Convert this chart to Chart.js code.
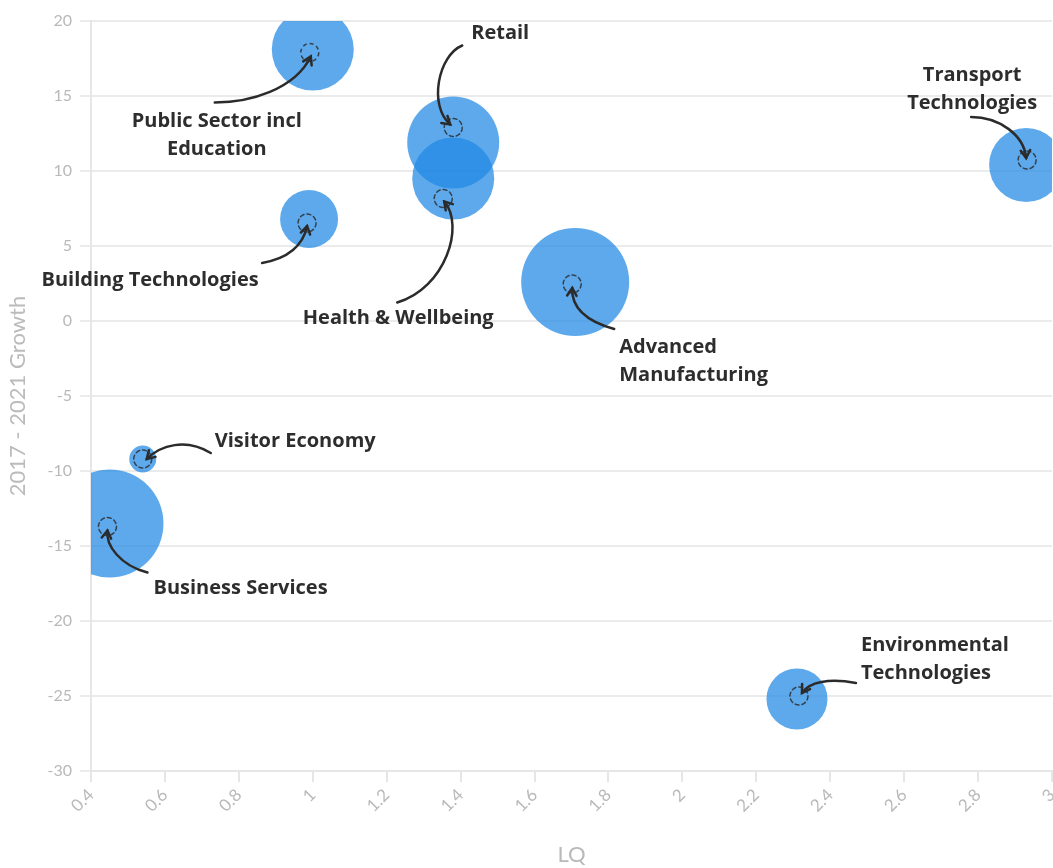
<!DOCTYPE html>
<html>
<head>
<meta charset="utf-8">
<script src="https://cdn.jsdelivr.net/npm/chart.js@4"></script>
<style>
  html, body { margin: 0; padding: 0; background: #fff; overflow: hidden; }
  #wrap { width: 1053px; height: 868px; }
</style>
</head>
<body>
<div id="wrap"><canvas id="bubbles"></canvas></div>
<script>
// sectors, LQ (x), 2017-2021 growth (y), bubble size
const sectors = ['Public Sector incl Education', 'Retail', 'Health & Wellbeing', 'Building Technologies',
  'Advanced Manufacturing', 'Transport Technologies', 'Visitor Economy', 'Business Services', 'Environmental Technologies'];
const lq = [1.00, 1.38, 1.38, 0.99, 1.71, 2.93, 0.54, 0.45, 2.31];
const growth = [18.1, 11.9, 9.5, 6.8, 2.6, 10.4, -9.2, -13.5, -25.2];
const size = [41, 46, 41, 29, 54, 37, 13.5, 54, 30.5];

// callout labels: offsets in px from the marked point
// o = dashed marker offset from bubble centre, t = text, s/c1/c2/e = arrow curve
const callouts = [
  { lines: ['Public Sector incl', 'Education'], align: 'center', o: [-3, 3], t: [-93, 69], s: [-95, 50], c1: [-60, 50], c2: [-15, 37], e: [1, 4] },
  { lines: ['Retail'], align: 'center', o: [0, -15], t: [47, -94], s: [9, -82], c1: [-15, -72], c2: [-25, -22], e: [-3, -3] },
  { lines: ['Health & Wellbeing'], align: 'center', o: [-10, 20], t: [-45, 120], s: [-46, 104], c1: [2, 90], c2: [22, 27], e: [1, 3] },
  { lines: ['Building Technologies'], align: 'center', o: [-2, 4], t: [-157, 57], s: [-45, 40], c1: [-17, 35], c2: [-4, 22], e: [0, 3] },
  { lines: ['Advanced', 'Manufacturing'], align: 'left', o: [-3, 2], t: [47, 63], s: [42, 45], c1: [17, 38], c2: [-1, 26], e: [0, 4] },
  { lines: ['Transport', 'Technologies'], align: 'center', o: [1, -5], t: [-55, -85], s: [-56, -43], c1: [-28, -43], c2: [-3, -25], e: [-1, -2] },
  { lines: ['Visitor Economy'], align: 'left', o: [0, 0], t: [72, -18], s: [68, -6], c1: [43, -21], c2: [18, -14], e: [4, 0] },
  { lines: ['Business Services'], align: 'left', o: [-2, 3], t: [46, 62], s: [40, 46], c1: [13, 39], c2: [-2, 19], e: [0, 4] },
  { lines: ['Environmental', 'Technologies'], align: 'left', o: [2, -3], t: [62, -51], s: [57, -13], c1: [30, -18], c2: [10, -14], e: [3, -3] }
];

const points = lq.map((x, i) => ({ x: x, y: growth[i], r: size[i] }));

const calloutPlugin = {
  id: 'callouts',
  afterDatasetsDraw(chart) {
    const ctx = chart.ctx;
    const xs = chart.scales.x, ys = chart.scales.y;
    ctx.save();
    callouts.forEach((c, i) => {
      const ax = xs.getPixelForValue(lq[i]) + c.o[0];
      const ay = ys.getPixelForValue(growth[i]) + c.o[1];

      // dashed marker
      ctx.beginPath();
      ctx.setLineDash([4, 3]);
      ctx.lineWidth = 1.5;
      ctx.strokeStyle = 'rgba(40,40,40,0.8)';
      ctx.arc(ax, ay, 9, 0, Math.PI * 2);
      ctx.stroke();
      ctx.setLineDash([]);

      // curved arrow
      const ex = ax + c.e[0], ey = ay + c.e[1];
      const c2x = ax + c.c2[0], c2y = ay + c.c2[1];
      ctx.beginPath();
      ctx.lineWidth = 2.5;
      ctx.strokeStyle = '#2b2b2b';
      ctx.lineCap = 'round';
      ctx.moveTo(ax + c.s[0], ay + c.s[1]);
      ctx.bezierCurveTo(ax + c.c1[0], ay + c.c1[1], c2x, c2y, ex, ey);
      ctx.stroke();
      const ang = Math.atan2(ey - c2y, ex - c2x);
      ctx.beginPath();
      ctx.moveTo(ex - 9 * Math.cos(ang - 0.55), ey - 9 * Math.sin(ang - 0.55));
      ctx.lineTo(ex, ey);
      ctx.lineTo(ex - 9 * Math.cos(ang + 0.55), ey - 9 * Math.sin(ang + 0.55));
      ctx.stroke();

      // label text
      ctx.fillStyle = '#2d2d2d';
      ctx.font = 'bold 20px "Open Sans"';
      ctx.textAlign = c.align;
      ctx.textBaseline = 'middle';
      c.lines.forEach((ln, k) => {
        ctx.fillText(ln, ax + c.t[0], ay + c.t[1] + k * 28);
      });
    });
    ctx.restore();
  }
};

Chart.defaults.font.family = 'Lato';

new Chart(document.getElementById('bubbles'), {
  type: 'bubble',
  data: {
    labels: sectors,
    datasets: [{
      label: '2017 - 2021 Growth',
      data: points,
      backgroundColor: 'rgba(30,136,229,0.72)',
      borderWidth: 0,
      hoverRadius: 0
    }]
  },
  options: {
    responsive: true,
    maintainAspectRatio: false,
    animation: false,
    layout: { autoPadding: false, padding: { top: 21, right: 1, left: 0, bottom: 0 } },
    plugins: {
      legend: { display: false },
      tooltip: { enabled: false }
    },
    scales: {
      x: {
        type: 'linear',
        min: 0.4,
        max: 3,
        ticks: {
          stepSize: 0.2, minRotation: 45, maxRotation: 45, color: '#b9b9b9', font: { size: 17 }, padding: 3,
          callback: v => String(Number(v.toFixed(1)))
        },
        grid: { drawOnChartArea: false, drawTicks: true, tickLength: 11, color: '#e6e6e6', lineWidth: 2 },
        border: { color: '#e6e6e6', width: 2 },
        title: { display: true, text: 'LQ', color: '#b9b9b9', font: { size: 22 }, padding: { top: 0, bottom: 0 } },
        afterFit(scale) { scale.height = 97; scale.paddingRight = 0; }
      },
      y: {
        min: -30,
        max: 20,
        ticks: { stepSize: 5, color: '#b9b9b9', font: { size: 16 }, padding: 8 },
        grid: { color: '#ebebeb', lineWidth: 2, tickLength: 11 },
        border: { color: '#e6e6e6', width: 2 },
        title: { display: true, text: '2017 - 2021 Growth', color: '#bbbbbb', font: { size: 22 }, padding: { top: 5, bottom: 0 } },
        afterFit(scale) { scale.width = 91; }
      }
    }
  },
  plugins: [calloutPlugin]
});
</script>
</body>
</html>
